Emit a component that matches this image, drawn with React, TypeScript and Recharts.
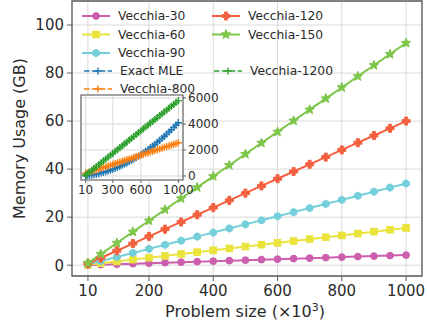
import React from "react";
import {
  CartesianGrid,
  Legend,
  Line,
  LineChart,
  ReferenceArea,
  XAxis,
  YAxis,
} from "recharts";

// Main panel: memory (GB) against problem size (x10^3)
const problemSizes = [10, 50, 100, 150, 200, 250, 300, 350, 400, 450, 500, 550, 600, 650, 700, 750, 800, 850, 900, 950, 1000];
const vecchia30 = [0.04, 0.21, 0.42, 0.63, 0.84, 1.05, 1.26, 1.47, 1.68, 1.89, 2.1, 2.31, 2.52, 2.73, 2.94, 3.15, 3.36, 3.57, 3.78, 3.99, 4.2];
const vecchia60 = [0.16, 0.78, 1.55, 2.33, 3.1, 3.88, 4.65, 5.43, 6.2, 6.98, 7.75, 8.53, 9.3, 10.08, 10.85, 11.63, 12.4, 13.18, 13.95, 14.73, 15.5];
const vecchia90 = [0.34, 1.7, 3.4, 5.1, 6.8, 8.5, 10.2, 11.9, 13.6, 15.3, 17, 18.7, 20.4, 22.1, 23.8, 25.5, 27.2, 28.9, 30.6, 32.3, 34];
const vecchia120 = [0.6, 3, 6, 9, 12, 15, 18, 21, 24, 27, 30, 33, 36, 39, 42, 45, 48, 51, 54, 57, 60];
const vecchia150 = [0.93, 4.63, 9.25, 13.88, 18.5, 23.13, 27.75, 32.38, 37, 41.63, 46.25, 50.88, 55.5, 60.13, 64.75, 69.38, 74, 78.63, 83.25, 87.88, 92.5];

// Inset: memory (GB) of the exact MLE against the large-neighbour Vecchia runs
const insetSizes = [10, 25, 50, 75, 100, 125, 150, 175, 200, 225, 250, 275, 300, 325, 350, 375, 400, 425, 450, 475, 500, 525, 550, 575, 600, 625, 650, 675, 700, 725, 750, 775, 800, 825, 850, 875, 900, 925, 950, 975, 1000];
const exactMle = [10, 20, 44, 72, 104, 141, 182, 227, 276, 330, 388, 450, 516, 587, 662, 741, 824, 912, 1004, 1100, 1200, 1305, 1414, 1527, 1644, 1766, 1892, 2022, 2156, 2295, 2438, 2585, 2736, 2892, 3052, 3216, 3384, 3557, 3734, 3915, 4100];
const vecchia800 = [200, 235, 295, 355, 415, 475, 535, 595, 650, 710, 770, 830, 890, 950, 1010, 1070, 1130, 1190, 1250, 1305, 1365, 1425, 1485, 1545, 1605, 1665, 1725, 1780, 1840, 1900, 1960, 2020, 2080, 2140, 2200, 2260, 2320, 2375, 2435, 2495, 2555];
const vecchia1200 = [58, 145, 290, 435, 580, 725, 870, 1015, 1160, 1305, 1450, 1595, 1740, 1885, 2030, 2175, 2320, 2465, 2610, 2755, 2900, 3045, 3190, 3335, 3480, 3625, 3770, 3915, 4060, 4205, 4350, 4495, 4640, 4785, 4930, 5075, 5220, 5365, 5510, 5655, 5800];

const xTicks = [10, 200, 400, 600, 800, 1000];
const yTicks = [0, 20, 40, 60, 80, 100];
const insetXTicks = [10, 300, 600, 1000];
const insetYTicks = [0, 2000, 4000, 6000];

const FONT = "DejaVu Sans";
const TEXT = "#2b2b2b";
const GRID = "#d9d9d9";
const SPINE = "#5c5c5c";

type MarkerKind = "circle" | "square" | "hexagon" | "plusFilled" | "star" | "plus";

const mainSeries: { key: string; name: string; color: string; marker: MarkerKind }[] = [
  { key: "v30", name: "Vecchia-30", color: "#cc5fae", marker: "circle" },
  { key: "v60", name: "Vecchia-60", color: "#eae33c", marker: "square" },
  { key: "v90", name: "Vecchia-90", color: "#73cfd9", marker: "hexagon" },
  { key: "v120", name: "Vecchia-120", color: "#f4603f", marker: "plusFilled" },
  { key: "v150", name: "Vecchia-150", color: "#7ec64a", marker: "star" },
];

const insetSeries: { key: string; name: string; color: string }[] = [
  { key: "mle", name: "Exact MLE", color: "#1f77b4" },
  { key: "v800", name: "Vecchia-800", color: "#ff7f0e" },
  { key: "v1200", name: "Vecchia-1200", color: "#2ca02c" },
];

const mainData = problemSizes.map((n, i) => ({
  n,
  v30: vecchia30[i],
  v60: vecchia60[i],
  v90: vecchia90[i],
  v120: vecchia120[i],
  v150: vecchia150[i],
}));

const insetData = insetSizes.map((n, i) => ({
  n,
  mle: exactMle[i],
  v800: vecchia800[i],
  v1200: vecchia1200[i],
}));

function polygon(cx: number, cy: number, pts: [number, number][]) {
  return pts.map(([dx, dy]) => `${cx + dx},${cy + dy}`).join(" ");
}

function Marker({ kind, cx, cy, color }: { kind: MarkerKind; cx: number; cy: number; color: string }) {
  if (cx == null || cy == null) return null;
  switch (kind) {
    case "circle":
      return <circle cx={cx} cy={cy} r={3.4} fill={color} stroke={color} strokeWidth={1} />;
    case "square":
      return <rect x={cx - 3.3} y={cy - 3.3} width={6.6} height={6.6} fill={color} stroke={color} strokeWidth={1} />;
    case "hexagon": {
      const r = 3.8;
      const pts: [number, number][] = [];
      for (let k = 0; k < 6; k++) {
        const a = ((-90 + 60 * k) * Math.PI) / 180;
        pts.push([r * Math.cos(a), r * Math.sin(a)]);
      }
      return <polygon points={polygon(cx, cy, pts)} fill={color} stroke={color} strokeWidth={1} />;
    }
    case "plusFilled": {
      const a = 1.5;
      const b = 4;
      const pts: [number, number][] = [
        [-a, -b], [a, -b], [a, -a], [b, -a], [b, a], [a, a],
        [a, b], [-a, b], [-a, a], [-b, a], [-b, -a], [-a, -a],
      ];
      return <polygon points={polygon(cx, cy, pts)} fill={color} stroke={color} strokeWidth={1} />;
    }
    case "star": {
      const pts: [number, number][] = [];
      for (let k = 0; k < 10; k++) {
        const r = k % 2 === 0 ? 5 : 2.1;
        const a = ((-90 + 36 * k) * Math.PI) / 180;
        pts.push([r * Math.cos(a), r * Math.sin(a)]);
      }
      return <polygon points={polygon(cx, cy, pts)} fill={color} stroke={color} strokeWidth={1} />;
    }
    case "plus":
      return (
        <path
          d={`M${cx - 3.6},${cy}H${cx + 3.6}M${cx},${cy - 3.6}V${cy + 3.6}`}
          stroke={color}
          strokeWidth={1.4}
          fill="none"
        />
      );
  }
  return null;
}

// Legend entries: two columns, inset entries listed beneath the main ones
const legendRows: { name: string; color: string; marker: MarkerKind; dashed: boolean; x: number; y: number }[] = [
  { ...mainSeries[0], dashed: false, x: 82, y: 16 },
  { ...mainSeries[1], dashed: false, x: 82, y: 34.5 },
  { ...mainSeries[2], dashed: false, x: 82, y: 53 },
  { ...mainSeries[3], dashed: false, x: 212, y: 16 },
  { ...mainSeries[4], dashed: false, x: 212, y: 34.5 },
  { ...insetSeries[0], marker: "plus", dashed: true, x: 84, y: 71 },
  { ...insetSeries[1], marker: "plus", dashed: true, x: 84, y: 89 },
  { ...insetSeries[2], marker: "plus", dashed: true, x: 214, y: 71 },
];

function LegendBlock() {
  return (
    <svg width={427} height={100} style={{ display: "block" }}>
      {legendRows.map((r) => (
        <g key={r.name}>
          <line
            x1={r.x}
            x2={r.x + 28}
            y1={r.y}
            y2={r.y}
            stroke={r.color}
            strokeWidth={r.dashed ? 1.6 : 2}
            strokeDasharray={r.dashed ? "5.5 2.4" : undefined}
          />
          <Marker kind={r.marker} cx={r.x + 14} cy={r.y} color={r.color} />
          <text
            x={r.x + 36}
            y={r.y}
            dy="0.36em"
            fontFamily={FONT}
            fontSize={12.3}
            fill={TEXT}
          >
            {r.name}
          </text>
        </g>
      ))}
    </svg>
  );
}

export default function App() {
  return (
    <div style={{ position: "absolute", left: 0, top: 0, width: 427, height: 332, background: "#fff" }}>
      <LineChart
        width={427}
        height={332}
        data={mainData}
        margin={{ top: 1, right: 5, bottom: 16, left: 0 }}
      >
        <CartesianGrid stroke={GRID} strokeWidth={1} />
        <XAxis
          dataKey="n"
          type="number"
          domain={[-39.5, 1049.5]}
          ticks={xTicks}
          interval={0}
          allowDataOverflow
          height={40}
          axisLine={false}
          tickLine={{ stroke: SPINE }}
          tickSize={5}
          tickMargin={4}
          tick={{ fill: TEXT, fontSize: 15, fontFamily: FONT }}
          label={{
            content: ({ viewBox }: any) => (
              <text
                x={viewBox.x + viewBox.width / 2 - 2}
                y={317}
                textAnchor="middle"
                fontFamily={FONT}
                fontSize={16}
                fill={TEXT}
              >
                <tspan>Problem size (×10</tspan>
                <tspan dy={-6} fontSize={11}>3</tspan>
                <tspan dy={6}>)</tspan>
              </text>
            ),
          }}
        />
        <YAxis
          type="number"
          domain={[-4.5, 110]}
          ticks={yTicks}
          interval={0}
          allowDataOverflow
          width={72}
          axisLine={false}
          tickLine={{ stroke: SPINE }}
          tickSize={5}
          tickMargin={3}
          tick={{ fill: TEXT, fontSize: 15, fontFamily: FONT }}
          label={{
            content: ({ viewBox }: any) => {
              const x = 19;
              const y = viewBox.y + viewBox.height / 2;
              return (
                <text
                  x={x}
                  y={y}
                  transform={`rotate(-90 ${x} ${y})`}
                  textAnchor="middle"
                  dy="0.36em"
                  fontFamily={FONT}
                  fontSize={16}
                  fill={TEXT}
                >
                  Memory Usage (GB)
                </text>
              );
            },
          }}
        />
        <ReferenceArea
          x1={-39.5}
          x2={1049.5}
          y1={-4.5}
          y2={110}
          fill="none"
          stroke={SPINE}
          strokeWidth={1.3}
        />
        {mainSeries.map((s) => (
          <Line
            key={s.key}
            type="linear"
            dataKey={s.key}
            name={s.name}
            stroke={s.color}
            strokeWidth={2}
            isAnimationActive={false}
            dot={(p: any) => <Marker key={p.index} kind={s.marker} cx={p.cx} cy={p.cy} color={s.color} />}
          />
        ))}
        <Legend
          layout="vertical"
          align="center"
          verticalAlign="middle"
          wrapperStyle={{ left: 0, top: 0, width: 427, height: 100 }}
          content={() => <LegendBlock />}
        />
      </LineChart>

      <div style={{ position: "absolute", left: 71, top: 88 }}>
        <LineChart
          width={162}
          height={112}
          data={insetData}
          margin={{ top: 7, right: 5, bottom: 0, left: 10 }}
        >
          <CartesianGrid stroke={GRID} strokeWidth={1} fill="#fff" fillOpacity={1} />
          <XAxis
            dataKey="n"
            type="number"
            domain={[-39.5, 1049.5]}
            ticks={insetXTicks}
            interval={0}
            allowDataOverflow
            height={20}
            axisLine={false}
            tickLine={{ stroke: SPINE }}
            tickSize={3}
            tickMargin={2}
            tick={{ fill: TEXT, fontSize: 12, fontFamily: FONT }}
          />
          <YAxis
            orientation="right"
            type="number"
            domain={[-310, 6230]}
            ticks={insetYTicks}
            interval={0}
            allowDataOverflow
            width={45}
            axisLine={false}
            tickLine={{ stroke: SPINE }}
            tickSize={3}
            tickMargin={2}
            tick={{ fill: TEXT, fontSize: 12, fontFamily: FONT }}
          />
          <ReferenceArea
            x1={-39.5}
            x2={1049.5}
            y1={-310}
            y2={6230}
            fill="none"
            stroke={SPINE}
            strokeWidth={1.1}
          />
          {insetSeries.map((s) => (
            <Line
              key={s.key}
              type="linear"
              dataKey={s.key}
              name={s.name}
              stroke={s.color}
              strokeWidth={1.5}
              strokeDasharray="5.5 2.4"
              isAnimationActive={false}
              dot={(p: any) => <Marker key={p.index} kind="plus" cx={p.cx} cy={p.cy} color={s.color} />}
            />
          ))}
        </LineChart>
      </div>
    </div>
  );
}
